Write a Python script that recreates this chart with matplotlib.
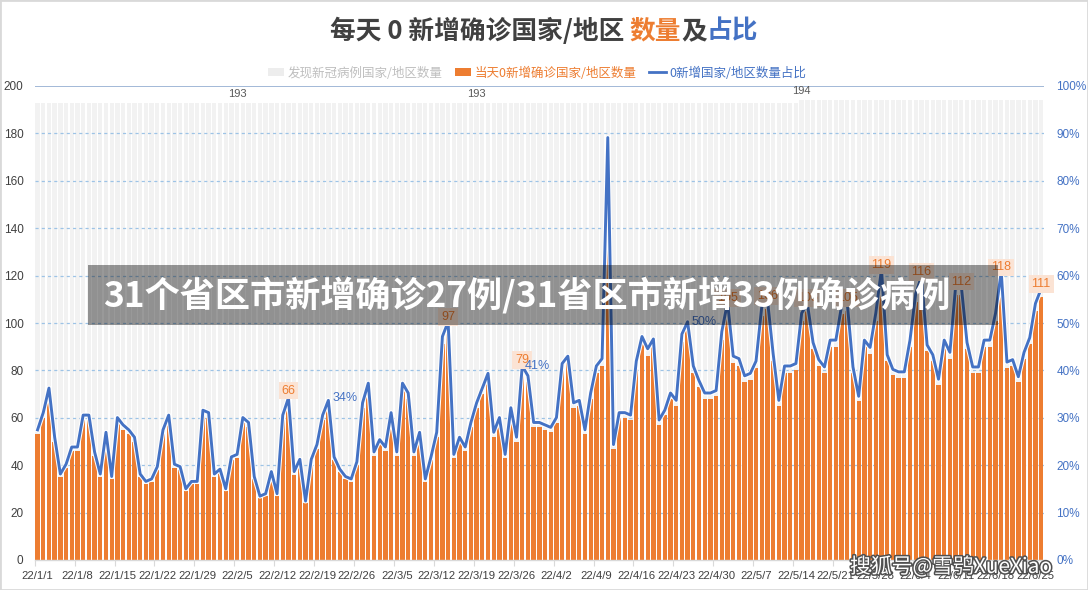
import numpy as np
import pandas as pd
import matplotlib
matplotlib.use('Agg')
import matplotlib.pyplot as plt
from matplotlib.patches import Rectangle, Patch
from matplotlib.lines import Line2D
import matplotlib.patheffects as pe
from matplotlib.ticker import PercentFormatter

plt.rcParams['font.family'] = ['Noto Sans CJK SC', 'DejaVu Sans']

# ---------------- data ----------------
start_date = '2022-01-01'
n_days = 177
dates = pd.date_range(start_date, periods=n_days)
date_labels = [f"{d.year % 100}/{d.month}/{d.day}" for d in dates]

# countries/regions with zero new confirmed cases that day
zero_new = [
    53, 60, 70, 50, 35, 39, 46, 46, 59, 59,
    44, 35, 52, 34, 58, 55, 53, 50, 35, 32,
    33, 38, 53, 59, 39, 38, 29, 32, 32, 61,
    60, 35, 37, 29, 42, 43, 58, 56, 34, 26,
    27, 36, 27, 59, 66, 36, 41, 24, 41, 47,
    59, 65, 42, 37, 34, 33, 40, 64, 72, 44,
    49, 46, 60, 44, 72, 68, 44, 52, 33, 42,
    52, 91, 97, 43, 50, 46, 56, 64, 70, 76,
    52, 58, 43, 62, 50, 79, 75, 56, 56, 55,
    54, 58, 80, 83, 64, 65, 53, 68, 79, 82,
    172, 47, 60, 60, 59, 81, 91, 86, 90, 57,
    61, 68, 65, 92, 97, 79, 73, 68, 68, 69,
    93, 105, 83, 82, 75, 76, 81, 103, 106, 84,
    65, 79, 79, 80, 101, 105, 89, 82, 79, 90,
    90, 104, 105, 79, 67, 90, 87, 101, 119, 84,
    78, 77, 77, 90, 109, 116, 88, 84, 74, 90,
    85, 112, 112, 89, 79, 79, 90, 90, 101, 118,
    81, 82, 75, 85, 91, 105, 111,
]
# countries/regions that have reported cases
total = [193] * 134 + [194] * 43

value_label_idx = [44, 72, 85, 121, 128, 135, 142, 148, 155, 162, 169, 176]
pct_label_idx = [44, 85, 114]
pct_label_dx = [57, 15, 16]          # pixel offsets of the % labels
total_label_idx = [35, 77, 134]

title_parts = [("每天 0 新增确诊国家/地区 ", '#404040'), ("数量", '#ED7D31'),
               ("及", '#404040'), ("占比", '#4472C4')]
legend_labels = ['发现新冠病例国家/地区数量', '当天0新增确诊国家/地区数量', '0新增国家/地区数量占比']
banner_text = '31个省区市新增确诊27例/31省区市新增33例确诊病例'
watermark_text = '搜狐号@雪鸮XueXiao'

# ---------------- figure ----------------
W, H = 1088, 590
fig = plt.figure(figsize=(W / 100, H / 100), dpi=100)
fig.patch.set_facecolor('white')


def fx(x):
    return x / W


def fy(y):
    return 1 - y / H


C_ORANGE = '#ED7D31'
C_BLUE = '#4472C4'
C_GRAY = '#F2F2F2'
TICK_FONT = ['Liberation Sans', 'DejaVu Sans']

ax_l, ax_r, ax_t, ax_b = 34.7, 1044, 86, 560
ax = fig.add_axes([fx(ax_l), fy(ax_b), (ax_r - ax_l) / W, (ax_b - ax_t) / H])
x = np.arange(n_days)
zero_arr = np.array(zero_new, dtype=float)
total_arr = np.array(total, dtype=float)
ratio = zero_arr / total_arr

ax.bar(x, total_arr, width=0.76, color=C_GRAY, zorder=1)
ax.bar(x, zero_arr, width=0.76, color=C_ORANGE, zorder=2)
ax.set_xlim(-0.5, n_days - 0.5)
ax.set_ylim(0, 200)
ax.set_yticks(range(0, 201, 20))
for v in range(20, 200, 20):
    ax.axhline(v, color='#9DC3E6', lw=0.9, ls=(0, (2.5, 2.5)), zorder=1.5)
ax.axhline(200, color='#9BB3D4', lw=1.3, zorder=1.5)

for s in ['left', 'right', 'top']:
    ax.spines[s].set_visible(False)
ax.spines['bottom'].set_color('#D9D9D9')
ax.spines['bottom'].set_linewidth(1.0)

ax.set_xticks(np.arange(-0.5, n_days, 7))
ax.set_xticklabels([])
ax.tick_params(axis='x', which='major', length=4, color='#D9D9D9')
ax.set_xticks(np.arange(0, n_days, 7), minor=True)
ax.set_xticklabels([date_labels[i] for i in range(0, n_days, 7)], minor=True,
                   fontfamily=TICK_FONT)
ax.tick_params(axis='x', which='minor', length=0, pad=8, labelsize=8.2, labelcolor='#404040')
ax.tick_params(axis='y', length=0, pad=8, labelsize=8.5, labelcolor='#404040')
for lab in ax.get_yticklabels():
    lab.set_fontfamily(TICK_FONT)

ax2 = ax.twinx()
ax2.set_ylim(0, 1)
ax2.set_yticks(np.arange(0, 1.01, 0.1))
ax2.yaxis.set_major_formatter(PercentFormatter(1.0, decimals=0))
ax2.tick_params(axis='y', length=0, pad=9, labelsize=8.5, labelcolor=C_BLUE)
for lab in ax2.get_yticklabels():
    lab.set_fontfamily(TICK_FONT)
for s in ax2.spines.values():
    s.set_visible(False)
ax2.plot(x, ratio, color=C_BLUE, lw=2.1, zorder=3, solid_joinstyle='round',
         path_effects=[pe.Stroke(linewidth=3.6, foreground='white'), pe.Normal()])

# labels above gray bars
for k in total_label_idx:
    ax2.annotate(str(int(total_arr[k])), (k, total_arr[k]), xycoords=ax.transData,
                 xytext=(0, 4), textcoords='offset pixels', ha='center', va='bottom',
                 fontsize=8, color='#595959', zorder=4, fontfamily=TICK_FONT)

# value labels
for k in value_label_idx:
    ax2.annotate(str(int(zero_arr[k])), (k, zero_arr[k]), xycoords=ax.transData,
                 xytext=(0, 13), textcoords='offset pixels', ha='center', va='center',
                 fontsize=9, color=C_ORANGE, zorder=5, fontfamily=TICK_FONT,
                 bbox=dict(boxstyle='square,pad=0.22', fc='#FBE3D4', ec='none'))

for k, dx in zip(pct_label_idx, pct_label_dx):
    ax2.annotate(f"{ratio[k] * 100:.0f}%", (k, ratio[k]), xytext=(dx, 0),
                 textcoords='offset pixels', ha='center', va='center',
                 fontsize=9, color=C_BLUE, zorder=5, fontfamily=TICK_FONT)

# title (multi-coloured)
renderer = fig.canvas.get_renderer()
tparts = []
for s, c in title_parts:
    t = fig.text(0, fy(31), s, color=c, fontsize=18.5, fontweight='bold', va='center', ha='left')
    tparts.append(t)
widths = [t.get_window_extent(renderer).width for t in tparts]
x0 = 544 - sum(widths) / 2
for t, w in zip(tparts, widths):
    t.set_x(fx(x0))
    x0 += w

# legend
handles = [Patch(facecolor='#EDEDED', edgecolor='none'),
           Patch(facecolor=C_ORANGE, edgecolor='none'),
           Line2D([0], [0], color=C_BLUE, lw=2)]
leg = fig.legend(handles, legend_labels, loc='center', bbox_to_anchor=(fx(537), fy(73)),
                 ncol=3, frameon=False, fontsize=9, handlelength=1.3, handleheight=0.6,
                 columnspacing=1.0, handletextpad=0.3,
                 labelcolor=['#BFBFBF', C_ORANGE, C_BLUE])

# overlay banner
fig.add_artist(Rectangle((fx(88), fy(325)), (998 - 88) / W, (325 - 265) / H,
                         transform=fig.transFigure, facecolor='black', alpha=0.4,
                         edgecolor='none', zorder=10))
fig.text(fx(103), fy(295), banner_text, color='white', fontsize=25.3, fontweight='bold',
         va='center', ha='left', zorder=11)

# watermark
fig.text(fx(850), fy(567), watermark_text, color='white', fontsize=15, va='center', ha='left',
         zorder=11, path_effects=[pe.withStroke(linewidth=2.2, foreground='#505050')])

# frame
fig.add_artist(Rectangle((0, 0), 1, 1, transform=fig.transFigure, fill=False,
                         edgecolor='#D9D9D9', lw=2, zorder=12))

fig.savefig('out.png', dpi=100)
